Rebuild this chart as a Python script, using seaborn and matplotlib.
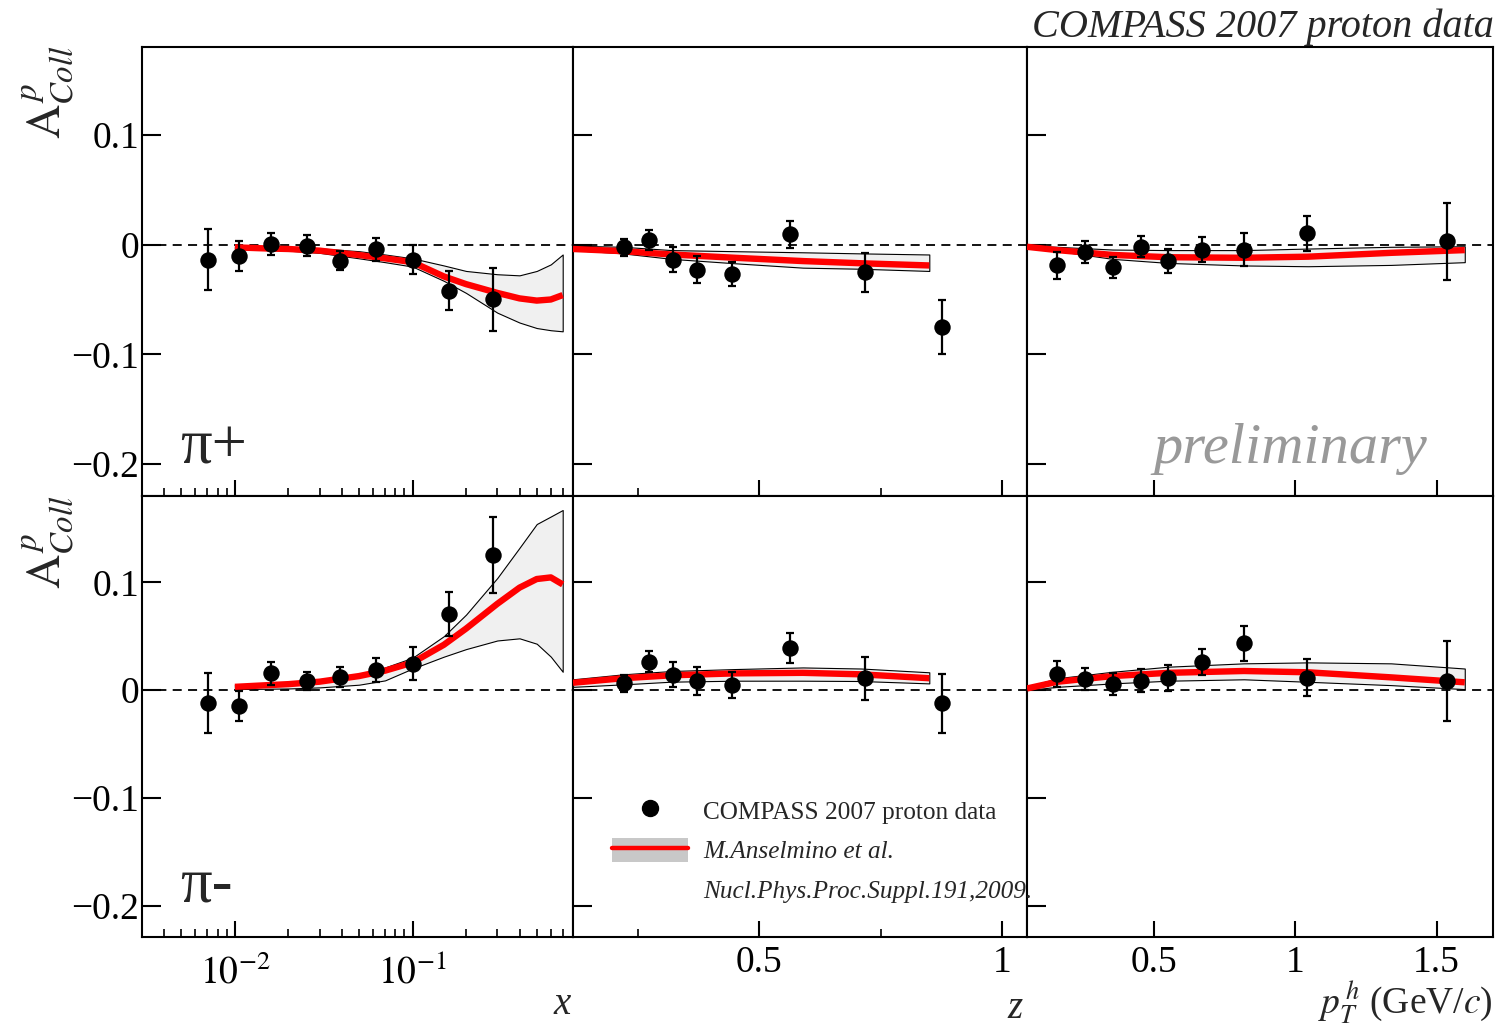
import numpy as np
import pandas as pd
import matplotlib
matplotlib.use("Agg")
import matplotlib.pyplot as plt
from matplotlib.ticker import FixedLocator, FixedFormatter, FuncFormatter, NullFormatter, NullLocator, LogLocator
from matplotlib.lines import Line2D
from matplotlib.patches import Patch
from matplotlib.legend_handler import HandlerTuple
import seaborn as sns

# ---------------- measured Collins asymmetries ----------------
x_bins = [0.0071, 0.0106, 0.0160, 0.0256, 0.0392, 0.0622, 0.1005, 0.160, 0.285]
z_bins = [0.221, 0.273, 0.323, 0.373, 0.445, 0.564, 0.717, 0.877]
pt_bins = [0.157, 0.254, 0.353, 0.452, 0.549, 0.669, 0.818, 1.043, 1.538]

pip_x_val = [-0.0136, -0.0106, 0.0006, -0.0010, -0.0145, -0.0042, -0.0140, -0.0420, -0.0500]
pip_x_err = [0.0275, 0.0135, 0.0100, 0.0095, 0.0086, 0.0103, 0.0132, 0.0180, 0.0290]
pim_x_val = [-0.0118, -0.0149, 0.0155, 0.0084, 0.0124, 0.0183, 0.0245, 0.0708, 0.1252]
pim_x_err = [0.0280, 0.0136, 0.0105, 0.0085, 0.0093, 0.0110, 0.0150, 0.0206, 0.0350]

pip_z_val = [-0.0025, 0.0045, -0.0136, -0.0227, -0.0264, 0.0094, -0.0252, -0.0752]
pip_z_err = [0.0080, 0.0090, 0.0110, 0.0120, 0.0110, 0.0124, 0.0180, 0.0245]
pim_z_val = [0.0062, 0.0264, 0.0140, 0.0084, 0.0047, 0.0388, 0.0109, -0.0124]
pim_z_err = [0.0080, 0.0097, 0.0116, 0.0130, 0.0120, 0.0140, 0.0200, 0.0270]

pip_pt_val = [-0.0190, -0.0070, -0.0206, -0.0018, -0.0152, -0.0045, -0.0048, 0.0103, 0.0030]
pip_pt_err = [0.0120, 0.0100, 0.0094, 0.0097, 0.0110, 0.0110, 0.0150, 0.0160, 0.0350]
pim_pt_val = [0.0149, 0.0105, 0.0056, 0.0087, 0.0109, 0.0260, 0.0434, 0.0115, 0.0084]
pim_pt_err = [0.0125, 0.0100, 0.0104, 0.0105, 0.0120, 0.0120, 0.0160, 0.0170, 0.0367]

# ---------------- model predictions (central value and error band) ----------------
mx_grid = [0.010, 0.015, 0.020, 0.030, 0.050, 0.070, 0.100, 0.150, 0.200, 0.300, 0.400, 0.500, 0.600, 0.700]
pip_mx_c = [-0.0025, -0.0035, -0.0040, -0.0055, -0.0095, -0.0125, -0.0160, -0.0290, -0.0360, -0.0440, -0.0490, -0.0510, -0.0500, -0.0460]
pip_mx_hi = [-0.0015, -0.0020, -0.0025, -0.0035, -0.0060, -0.0090, -0.0125, -0.0190, -0.0240, -0.0270, -0.0280, -0.0240, -0.0180, -0.0090]
pip_mx_lo = [-0.0035, -0.0045, -0.0055, -0.0075, -0.0125, -0.0160, -0.0200, -0.0330, -0.0440, -0.0620, -0.0710, -0.0760, -0.0780, -0.0790]
pim_mx_c = [0.0030, 0.0045, 0.0055, 0.0078, 0.0130, 0.0180, 0.0255, 0.0420, 0.0570, 0.0800, 0.0950, 0.1030, 0.1045, 0.0980]
pim_mx_hi = [0.0050, 0.0060, 0.0070, 0.0095, 0.0150, 0.0210, 0.0300, 0.0500, 0.0700, 0.1040, 0.1320, 0.1540, 0.1610, 0.1670]
pim_mx_lo = [0.0010, 0.0012, 0.0015, 0.0025, 0.0050, 0.0090, 0.0200, 0.0310, 0.0380, 0.0460, 0.0480, 0.0430, 0.0310, 0.0170]

mz_grid = [0.117, 0.22, 0.32, 0.45, 0.59, 0.71, 0.85]
pip_mz_c = [-0.0040, -0.0060, -0.0090, -0.0120, -0.0150, -0.0170, -0.0190]
pip_mz_hi = [-0.0010, -0.0020, -0.0050, -0.0060, -0.0070, -0.0080, -0.0090]
pip_mz_lo = [-0.0050, -0.0080, -0.0130, -0.0170, -0.0210, -0.0220, -0.0240]
pim_mz_c = [0.0068, 0.0110, 0.0137, 0.0155, 0.0160, 0.0146, 0.0110]
pim_mz_hi = [0.0100, 0.0146, 0.0177, 0.0195, 0.0210, 0.0200, 0.0165]
pim_mz_lo = [0.0030, 0.0053, 0.0078, 0.0087, 0.0087, 0.0084, 0.0062]

mpt_grid = [0.05, 0.157, 0.353, 0.551, 0.818, 1.045, 1.339, 1.60]
pip_mpt_c = [-0.0020, -0.0050, -0.0094, -0.0115, -0.0120, -0.0110, -0.0075, -0.0050]
pip_mpt_hi = [-0.0010, -0.0020, -0.0045, -0.0050, -0.0050, -0.0036, -0.0020, -0.0015]
pip_mpt_lo = [-0.0030, -0.0057, -0.0130, -0.0167, -0.0190, -0.0197, -0.0185, -0.0160]
pim_mpt_c = [0.0015, 0.0077, 0.0130, 0.0160, 0.0177, 0.0165, 0.0118, 0.0072]
pim_mpt_hi = [0.0030, 0.0110, 0.0170, 0.0217, 0.0248, 0.0257, 0.0248, 0.0200]
pim_mpt_lo = [0.0000, 0.0030, 0.0062, 0.0087, 0.0100, 0.0077, 0.0046, 0.0009]

y_ticks = [-0.2, -0.1, 0.0, 0.1]

# ---------------- style ----------------
sns.set_theme(style="ticks")
plt.rcParams["font.family"] = ["Liberation Serif", "DejaVu Serif"]
plt.rcParams["mathtext.fontset"] = "stix"
plt.rcParams["axes.linewidth"] = 1.5
plt.rcParams["axes.edgecolor"] = "black"

W, H = 1499, 1034
fig = plt.figure(figsize=(W / 100, H / 100), dpi=100)

col_edges = [142, 573, 1027, 1493]
row_edges = [47, 496, 937]
YLIM = (-0.229, 0.180)
TICK_FS = 27


def add_ax(c, r):
    x0, x1 = col_edges[c], col_edges[c + 1]
    y0, y1 = row_edges[r], row_edges[r + 1]
    return fig.add_axes([x0 / W, 1 - y1 / H, (x1 - x0) / W, (y1 - y0) / H])


def yfmt(v, _):
    if abs(v) < 1e-9:
        return "0"
    return f"{v:.1f}".replace("-", "\u2212")


panels = [
    # (row, col, bins, values, errors, grid, central, hi, lo)
    (0, 0, x_bins, pip_x_val, pip_x_err, mx_grid, pip_mx_c, pip_mx_hi, pip_mx_lo),
    (0, 1, z_bins, pip_z_val, pip_z_err, mz_grid, pip_mz_c, pip_mz_hi, pip_mz_lo),
    (0, 2, pt_bins, pip_pt_val, pip_pt_err, mpt_grid, pip_mpt_c, pip_mpt_hi, pip_mpt_lo),
    (1, 0, x_bins, pim_x_val, pim_x_err, mx_grid, pim_mx_c, pim_mx_hi, pim_mx_lo),
    (1, 1, z_bins, pim_z_val, pim_z_err, mz_grid, pim_mz_c, pim_mz_hi, pim_mz_lo),
    (1, 2, pt_bins, pim_pt_val, pim_pt_err, mpt_grid, pim_mpt_c, pim_mpt_hi, pim_mpt_lo),
]

axes = {}
for r, c, bins, vals, errs, grid, cen, hi, lo in panels:
    ax = add_ax(c, r)
    axes[(r, c)] = ax
    ax.set_facecolor("white")
    if c == 0:
        ax.set_xscale("log")
        ax.set_xlim(0.003, 0.8)
    elif c == 1:
        ax.set_xlim(0.117, 1.051)
    else:
        ax.set_xlim(0.05, 1.70)
    ax.set_ylim(*YLIM)

    ax.axhline(0, color="black", lw=1.3, ls=(0, (5, 3.5)), zorder=1)

    model = pd.DataFrame({"v": grid, "c": cen, "hi": hi, "lo": lo})
    ax.fill_between(model["v"], model["lo"], model["hi"], facecolor="#f0f0f0",
                    edgecolor="black", linewidth=0.8, zorder=2)
    sns.lineplot(data=model, x="v", y="c", ax=ax, color="#ff0000", linewidth=4.6,
                 errorbar=None, zorder=3, solid_capstyle="butt")

    pts = pd.DataFrame({"v": bins, "a": vals, "e": errs})
    ax.errorbar(pts["v"], pts["a"], yerr=pts["e"], fmt="none", ecolor="black",
                elinewidth=1.6, capsize=3, capthick=1.6, zorder=4)
    sns.scatterplot(data=pts, x="v", y="a", ax=ax, color="black", s=140,
                    edgecolor="black", linewidth=0, zorder=5, legend=False)

    ax.set_xlabel("")
    ax.set_ylabel("")

    # ticks: inward, bottom and left only
    ax.tick_params(axis="both", which="both", direction="in", top=False, right=False,
                   colors="black", labelsize=TICK_FS)
    ax.tick_params(axis="y", which="major", length=14, width=1.5, pad=2)
    ax.tick_params(axis="x", which="major", length=11.5, width=1.5, pad=6)
    ax.tick_params(axis="x", which="minor", length=5.8, width=1.2)
    ax.yaxis.set_major_locator(FixedLocator(y_ticks))
    ax.yaxis.set_minor_locator(NullLocator())
    ax.yaxis.set_major_formatter(FuncFormatter(yfmt))
    if c != 0:
        ax.tick_params(axis="y", labelleft=False)

    if c == 0:
        ax.xaxis.set_major_locator(FixedLocator([0.01, 0.1]))
        ax.xaxis.set_major_formatter(FixedFormatter([r"$10^{-2}$", r"$10^{-1}$"]))
        ax.xaxis.set_minor_locator(LogLocator(base=10, subs=np.arange(2, 10), numticks=20))
        ax.xaxis.set_minor_formatter(NullFormatter())
        ax.tick_params(axis="x", which="major", pad=13)
    elif c == 1:
        ax.xaxis.set_major_locator(FixedLocator([0.5, 1.0]))
        ax.xaxis.set_major_formatter(FixedFormatter(["0.5", "1"]))
        ax.xaxis.set_minor_locator(FixedLocator([0.25, 0.75]))
        ax.xaxis.set_minor_formatter(NullFormatter())
    else:
        ax.xaxis.set_major_locator(FixedLocator([0.5, 1.0, 1.5]))
        ax.xaxis.set_major_formatter(FixedFormatter(["0.5", "1", "1.5"]))
        ax.xaxis.set_minor_locator(NullLocator())
    if r == 0:
        ax.tick_params(axis="x", which="both", labelbottom=False)

    for s in ax.spines.values():
        s.set_linewidth(1.5)
        s.set_color("black")


def fx(px):
    return px / W


def fy(py):
    return 1 - py / H


# titles, axis titles and panel tags
fig.text(fx(1494), fy(27), "COMPASS 2007 proton data", ha="right", va="center",
         fontsize=29, style="italic")
for yc in (92, 542):
    fig.text(fx(48), fy(yc), r"$\mathrm{A}^{\,p}_{Coll}$", rotation=90, ha="center",
             va="center", fontsize=34)
fig.text(fx(562), fy(1005), "x", ha="center", va="center", fontsize=28, style="italic")
fig.text(fx(1015), fy(1008), "z", ha="center", va="center", fontsize=28, style="italic")
fig.text(fx(1493), fy(1003), r"$p_{T}^{\,h}$ (GeV/$c$)", ha="right", va="center",
         fontsize=27)
fig.text(fx(180), fy(463), "\u03c0+", ha="left", va="baseline", fontsize=45)
fig.text(fx(180), fy(902), "\u03c0-", ha="left", va="baseline", fontsize=45)
fig.text(fx(1153), fy(463), "preliminary", ha="left", va="baseline", fontsize=42,
         style="italic", color="#999999")

# legend drawn on the figure so it can run past the panel border
handles = [
    Line2D([], [], marker="o", color="black", ls="none", markersize=11.5),
    (Patch(facecolor="#c8c8c8", edgecolor="none"), Line2D([], [], color="#ff0000", lw=3.2)),
    Line2D([], [], ls="none"),
]
labels = ["COMPASS 2007 proton data", "M.Anselmino et al.", "Nucl.Phys.Proc.Suppl.191,2009."]
leg = fig.legend(handles, labels, loc="upper left",
                 bbox_to_anchor=(fx(612), fy(798)), bbox_transform=fig.transFigure,
                 frameon=False, borderpad=0, borderaxespad=0, fontsize=18.2,
                 handlelength=3.0, handleheight=1.1, handletextpad=0.6,
                 labelspacing=0.55, handler_map={tuple: HandlerTuple(ndivide=1)})
leg.get_texts()[1].set_style("italic")
leg.get_texts()[2].set_style("italic")
leg.set_zorder(10)

fig.savefig("out.png", dpi=100, facecolor="white")
